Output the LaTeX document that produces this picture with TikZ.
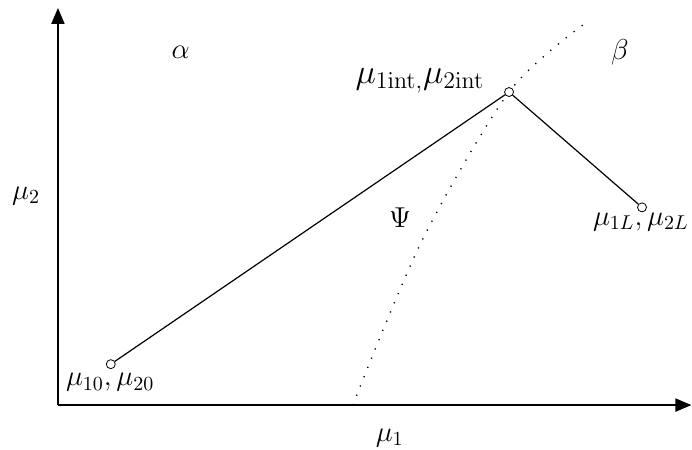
\documentclass[tikz,border=0pt]{standalone}
\usetikzlibrary{arrows.meta}
\begin{document}
\begin{tikzpicture}[
  axis/.style={line width=1pt, -{Triangle[length=8pt, width=6.5pt]}},
  pt/.style={circle, draw, fill=white, inner sep=0pt, minimum size=4.5pt},
  lbl/.style={font=\Large},
  front/.style={line width=0.7pt, dash pattern=on 0.6pt off 4.4pt}
]
  \useasboundingbox (-1.02,-0.79) rectangle (11.16,7.13);

  %-- Axes
  \coordinate (orig) at (0,0);
  \coordinate (xend) at (11.15,0);
  \coordinate (yend) at (0,6.99);
  \draw[axis] (orig) -- (xend);
  \draw[axis] (orig) -- (yend);
  \node[lbl] (mu1) at (5.84,-0.58) {$\mu_1$};
  \node[lbl] (mu2) at (-0.56,3.68) {$\mu_2$};

  %-- Frontière Psi
  \draw[front] plot[smooth] coordinates
    {(5.19,0) (6.41,2.90) (7.94,5.51) (9.24,6.69)};
  \node[lbl] (psi)   at (6.02,3.29) {$\Psi$};
  \node[lbl] (alpha) at (2.16,6.21) {$\alpha$};
  \node[lbl] (beta)  at (9.89,6.21) {$\beta$};

  %-- Points
  \node[pt] (p0)   at (0.93,0.72) {};
  \node[pt] (pint) at (7.94,5.51) {};
  \node[pt] (pL)   at (10.28,3.48) {};
  \draw[semithick] (p0) -- (pint) -- (pL);
  \node[lbl] (l0)   at (0.92,0.40) {$\mu_{10}, \mu_{20}$};
  \node[font=\LARGE] (lint) at (6.37,5.70) {$\mu_{1\mathrm{int},}\mu_{2\mathrm{int}}$};
  \node[lbl] (lL)   at (10.26,3.22) {$\mu_{1L}, \mu_{2L}$};
\end{tikzpicture}
\end{document}
